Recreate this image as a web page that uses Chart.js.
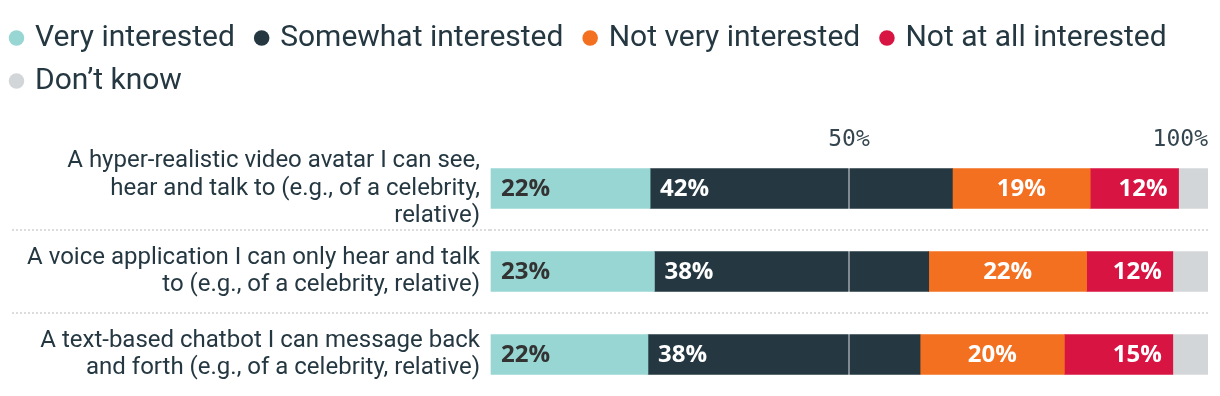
<!DOCTYPE html>
<html>
<head>
<meta charset="utf-8">
<script src="https://cdn.jsdelivr.net/npm/chart.js@4.4.1/dist/chart.umd.min.js"></script>
<style>
  html, body { margin: 0; padding: 0; background: #ffffff; }
  #wrap { position: relative; width: 1220px; height: 396px; }
</style>
</head>
<body>
<div id="wrap"><canvas id="c"></canvas></div>
<script>
// ---- Data ----
const categories = [
  ["A hyper-realistic video avatar I can see,", "hear and talk to (e.g., of a celebrity,", "relative)"],
  ["A voice application I can only hear and talk", "to (e.g., of a celebrity, relative)"],
  ["A text-based chatbot I can message back", "and forth (e.g., of a celebrity, relative)"]
];
const seriesNames = ["Very interested", "Somewhat interested", "Not very interested", "Not at all interested", "Don\u2019t know"];
const veryInterested     = [22.3, 22.9, 22.0];
const somewhatInterested = [42.1, 38.2, 37.9];
const notVeryInterested  = [19.2, 22.0, 20.1];
const notAtAllInterested = [12.3, 12.0, 15.1];
const dontKnow           = [4.1, 4.9, 4.9];
const tickValues = [0, 50, 100];
const tickLabels = ["", "50%", "100%"];

// ---- Styles ----
const colors = ["#98d6d3", "#253842", "#f37021", "#d81442", "#d3d6d9"];
const labelColors = ["#333333", "#ffffff", "#ffffff", "#ffffff", null];
const labelAlign = ["start", "start", "center", "end", null];
const textDark = "#253842";

const seriesValues = [veryInterested, somewhatInterested, notVeryInterested, notAtAllInterested, dontKnow];

const datasets = seriesValues.map((vals, i) => ({
  label: seriesNames[i],
  data: vals,
  backgroundColor: colors[i],
  borderWidth: 0,
  barThickness: 40,
  labelColor: labelColors[i],
  labelAlign: labelAlign[i]
}));

const barLabels = {
  id: 'barLabels',
  afterDatasetsDraw(chart) {
    const ctx = chart.ctx;
    ctx.save();
    ctx.font = "bold 24px 'Open Sans', Roboto, sans-serif";
    ctx.textBaseline = 'middle';
    chart.data.datasets.forEach((ds, di) => {
      if (!ds.labelAlign) return;
      const meta = chart.getDatasetMeta(di);
      meta.data.forEach((bar, i) => {
        const p = bar.getProps(['x', 'y', 'base'], true);
        const left = Math.min(p.x, p.base), right = Math.max(p.x, p.base);
        const txt = Math.round(ds.data[i]) + '%';
        ctx.fillStyle = ds.labelColor;
        let x;
        if (ds.labelAlign === 'start') { ctx.textAlign = 'left'; x = left + 10; }
        else if (ds.labelAlign === 'end') { ctx.textAlign = 'right'; x = right - 11; }
        else { ctx.textAlign = 'center'; x = (left + right) / 2; }
        ctx.fillText(txt, x, p.y + 1);
      });
    });
    ctx.restore();
  }
};

new Chart(document.getElementById('c'), {
  type: 'bar',
  data: { labels: categories, datasets },
  options: {
    indexAxis: 'y',
    responsive: true,
    maintainAspectRatio: false,
    animation: false,
    layout: { padding: { top: 10, right: 12, left: 0, bottom: 0 } },
    plugins: {
      tooltip: { enabled: false },
      legend: {
        position: 'top',
        align: 'start',
        labels: {
          usePointStyle: true,
          pointStyle: 'circle',
          boxWidth: 7,
          boxHeight: 11,
          padding: 13,
          color: textDark,
          font: { family: "Roboto, 'Liberation Sans', sans-serif", size: 30 },
          generateLabels(chart) {
            return chart.data.datasets.map((ds, i) => ({
              text: ds.label + '\u2004',
              fillStyle: ds.backgroundColor,
              strokeStyle: ds.backgroundColor,
              lineWidth: 0,
              pointStyle: 'circle',
              fontColor: textDark,
              datasetIndex: i,
              hidden: false
            }));
          }
        }
      }
    },
    scales: {
      x: {
        type: 'linear',
        position: 'top',
        stacked: true,
        min: 0,
        max: 100,
        afterBuildTicks(scale) { scale.ticks = tickValues.map(v => ({ value: v })); },
        afterFit(scale) { scale.height = 41; },
        border: { display: false },
        grid: {
          z: 1,
          drawTicks: false,
          lineWidth: 2,
          color: (c) => (c.tick && c.tick.value === 50) ? 'rgba(255,255,255,0.42)' : 'rgba(0,0,0,0)'
        },
        ticks: {
          align: 'inner',
          padding: -5,
          color: '#34454f',
          font: { family: "'DejaVu Sans Mono', 'Liberation Mono', monospace", size: 23, lineHeight: 1 },
          callback: (v) => tickLabels[tickValues.indexOf(v)]
        }
      },
      y: {
        stacked: true,
        afterFit(scale) { scale.width = 490; },
        border: { display: false, dash: [2, 2] },
        grid: {
          offset: true,
          drawTicks: true,
          tickLength: 478,
          lineWidth: 2,
          tickWidth: 2,
          tickBorderDash: [2, 2],
          color: (c) => (c.index > 0 && c.index < categories.length) ? '#dcdcdc' : 'rgba(0,0,0,0)',
          tickColor: (c) => (c.index > 0 && c.index < categories.length) ? '#dcdcdc' : 'rgba(0,0,0,0)'
        },
        ticks: {
          autoSkip: false,
          padding: -468,
          color: textDark,
          font: { family: "Roboto, 'Liberation Sans', sans-serif", size: 24, lineHeight: 1.15 }
        }
      }
    }
  },
  plugins: [barLabels]
});
</script>
</body>
</html>
